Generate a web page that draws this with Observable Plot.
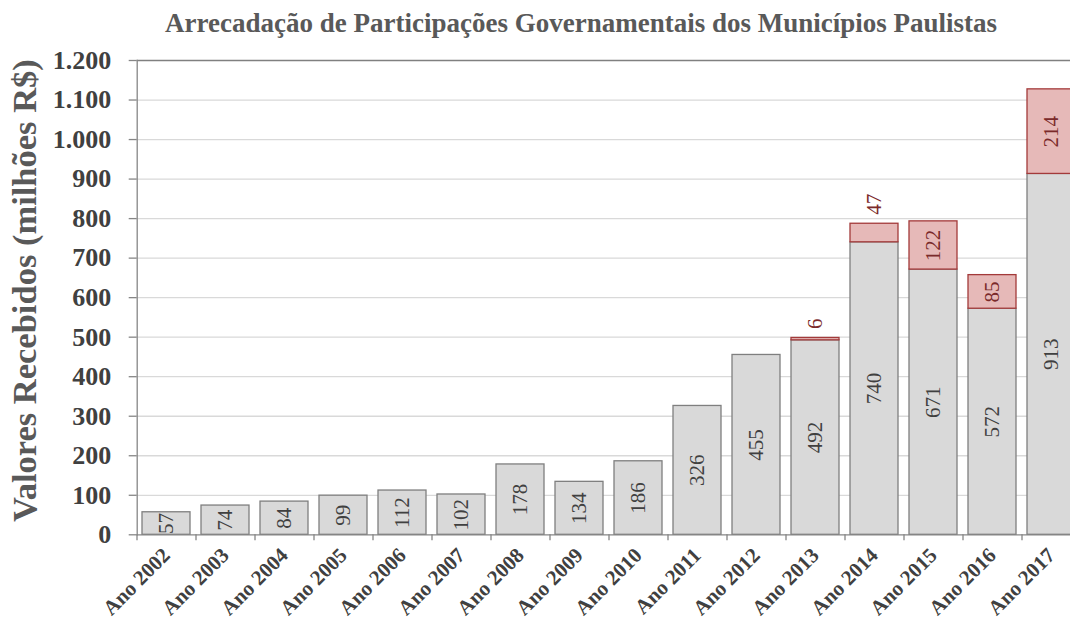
<!DOCTYPE html>
<html>
<head>
<meta charset="utf-8">
<script src="https://cdn.jsdelivr.net/npm/d3@7"></script>
<script src="https://cdn.jsdelivr.net/npm/@observablehq/plot@0.6"></script>
<style>
  html, body { margin: 0; padding: 0; background: #fff; overflow: hidden; }
  #wrap { position: relative; width: 1070px; height: 623px; }
  #title { position: absolute; left: 0; top: 0; z-index: 2; width: 1070px; box-sizing: border-box; padding-top: 8px; padding-left: 92px;
    text-align: center; font-family: "Liberation Serif", serif; font-weight: bold; font-size: 27px; line-height: 30px; color: #595959; white-space: nowrap; }
  #chart { position: absolute; left: 0; top: 0; }
</style>
</head>
<body>
<div id="wrap">
<div id="chart"></div>
<div id="title"></div>
</div>
<script>
const titleText = "Arrecadação de Participações Governamentais dos Municípios Paulistas";
const yTitle = "Valores Recebidos (milhões R$)";
const years = ["Ano 2002","Ano 2003","Ano 2004","Ano 2005","Ano 2006","Ano 2007","Ano 2008","Ano 2009","Ano 2010","Ano 2011","Ano 2012","Ano 2013","Ano 2014","Ano 2015","Ano 2016","Ano 2017"];
const baseValues = [57,74,84,99,112,102,178,134,186,326,455,492,740,671,572,913];
const extraValues = [null,null,null,null,null,null,null,null,null,null,null,6,47,122,85,214];
const yTicks = [0,100,200,300,400,500,600,700,800,900,1000,1100,1200];

document.getElementById("title").textContent = titleText;

const baseRows = years.map((year, i) => ({year, y1: 0, y2: baseValues[i], value: baseValues[i]}));
const extraRows = years.map((year, i) => extraValues[i] == null ? null :
  ({year, y1: baseValues[i], y2: baseValues[i] + extraValues[i], value: extraValues[i]})).filter(d => d);

const ptBR = d3.formatLocale({decimal: ",", thousands: ".", grouping: [3], currency: ["R$", ""]});
const fmt = ptBR.format(",");

const serif = "Liberation Serif, serif";
const chart = Plot.plot({
  width: 1070,
  height: 623,
  marginTop: 60,
  marginBottom: 88.7,
  marginLeft: 136.7,
  marginRight: 0,
  style: {fontFamily: serif, background: "#fff", overflow: "hidden"},
  x: {type: "band", domain: years, range: [136.7, 1080.7], paddingInner: 0.19, paddingOuter: 0.095, label: null},
  y: {domain: [0, 1200], label: null},
  marks: [
    Plot.gridY(yTicks.filter(t => t > 0 && t < 1200), {stroke: "#d9d9d9", strokeOpacity: 1, strokeWidth: 1.3}),
    Plot.ruleY([1200], {stroke: "#808080", strokeWidth: 1.3}),
    Plot.barY(baseRows, {x: "year", y1: "y1", y2: "y2", fill: "#d9d9d9", stroke: "#7f7f7f", strokeWidth: 1.3}),
    Plot.barY(extraRows, {x: "year", y1: "y1", y2: "y2", fill: "#e6b9b8", stroke: "#a33a3a", strokeWidth: 1.3}),
    Plot.ruleY([0], {stroke: "#868686", strokeWidth: 1.3}),
    Plot.frame({anchor: "left", stroke: "#868686", strokeWidth: 1.3}),
    Plot.axisY({ticks: yTicks, tickFormat: fmt, tickSize: 8, tickPadding: 18, stroke: "#868686", strokeWidth: 1.3,
      fontSize: 26, fontWeight: "bold", fill: "#404040", label: null}),
    Plot.axisX({tickSize: 6, text: null, dx: -29.5, stroke: "#868686", strokeWidth: 1.3, label: null}),
    Plot.axisX({tickSize: 0, tickRotate: -45, tickPadding: 17, fontSize: 21, fontWeight: "bold", fill: "#404040", label: null}),
    Plot.text(baseRows, {x: "year", y: d => d.value / 2, text: d => String(d.value), rotate: -90,
      fontSize: 21, fill: "#404040"}),
    Plot.text(extraRows.filter(d => d.value >= 60), {x: "year", y: d => (d.y1 + d.y2) / 2, text: d => String(d.value), rotate: -90,
      fontSize: 21, fill: "#7b2a2a"}),
    Plot.text(extraRows.filter(d => d.value < 60), {x: "year", y: "y2", text: d => String(d.value), rotate: -90,
      textAnchor: "start", dy: -9, fontSize: 21, fill: "#7b2a2a"}),
    Plot.text([yTitle], {frameAnchor: "left", textAnchor: "middle", rotate: -90, dx: -112, dy: -7, fontSize: 34.5, fontWeight: "bold", fill: "#595959"})
  ]
});
document.getElementById("chart").appendChild(chart);
</script>
</body>
</html>
